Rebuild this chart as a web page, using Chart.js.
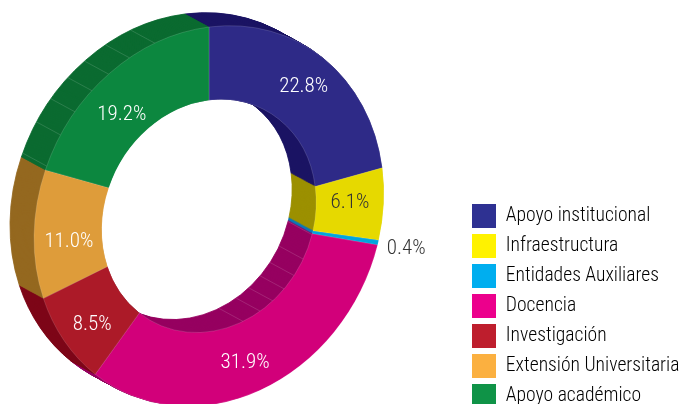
<!DOCTYPE html>
<html>
<head>
<meta charset="utf-8">
<script src="https://cdn.jsdelivr.net/npm/chart.js@4/dist/chart.umd.js"></script>
<style>html,body{margin:0;padding:0;background:#fff}#wrap{position:relative;width:679px;height:404px;overflow:hidden}canvas{display:block}</style>
</head>
<body>
<div id="wrap"><canvas id="c" width="679" height="404"></canvas></div>
<script>
const categories = ['Apoyo institucional','Infraestructura','Entidades Auxiliares','Docencia','Investigación','Extensión Universitaria','Apoyo académico'];
const values = [22.8, 6.1, 0.4, 31.9, 8.5, 11.0, 19.2];
const faceColors = ['#2e2a87','#e6d900','#00a5dc','#d2007a','#ac1a28','#de9c3a','#0c873f'];
const wallColors = ['#1b1464','#9c9000','#0b77b8','#960060','#7d0617','#94681f','#0a6b30'];
const legendColors = ['#2e3192','#fff200','#00aeef','#ec008c','#be1e2d','#fbb040','#0f9347'];
const labelColors = ['#fff','#333','#333','#fff','#fff','#fff','#fff'];
const outerSeamAngles = [292,302,310,318,325,333,342];
const innerSeamAngles = [106,118.5,127.5,135.5,143.5,151.5,161.5];
const labelNudgeX = [3,1,-4,-4,1,2,-6];
const labelNudgeY = [-3,-4,5,5,7,9,13];
const FONT = '"Roboto Condensed","Roboto",sans-serif';
const DEPTH = {x:-24, y:-13, steps:26};
const SHEAR = {b:-0.129, d:1.08};

function applyShear(ctx, cx, cy){
  ctx.translate(cx, cy);
  ctx.transform(1, SHEAR.b, 0, SHEAR.d, 0, 0);
  ctx.translate(-cx, -cy);
}
function mapPoint(cx, cy, dx, dy){
  return {x: cx + dx, y: cy + SHEAR.b*dx + SHEAR.d*dy};
}
const ringPlugin = {
  id:'ring',
  afterLayout(chart){
    const ca = chart.chartArea;
    ca.left = 34; ca.right = 384; ca.top = 41; ca.bottom = 391; ca.width = 350; ca.height = 350;
    const lg = chart.legend;
    const w = lg.width, h = lg.height;
    lg.left = 466; lg.top = 198; lg.right = lg.left + w; lg.bottom = lg.top + h;
    lg.adjustHitBoxes && lg.adjustHitBoxes();
  },
  beforeDatasetsDraw(chart){
    const ctx = chart.ctx, meta = chart.getDatasetMeta(0);
    const a0 = meta.data[0], cx = a0.x, cy = a0.y;
    for(let s = DEPTH.steps; s >= 1; s--){
      const t = s/DEPTH.steps;
      ctx.save();
      ctx.translate(DEPTH.x*t, DEPTH.y*t);
      applyShear(ctx, cx, cy);
      meta.data.forEach((arc,i)=>{
        const o = arc.options;
        arc.options = Object.assign({}, o, {backgroundColor:wallColors[i], borderColor:wallColors[i], borderWidth:0.8});
        arc.draw(ctx);
        arc.options = o;
      });
      ctx.restore();
    }
    const seam = (deg, r)=>{
      const rad = deg*Math.PI/180;
      const p = mapPoint(cx, cy, r*Math.sin(rad), -r*Math.cos(rad));
      ctx.beginPath(); ctx.moveTo(p.x, p.y); ctx.lineTo(p.x+DEPTH.x, p.y+DEPTH.y); ctx.stroke();
    };
    ctx.save();
    ctx.strokeStyle = 'rgba(255,255,255,0.2)'; ctx.lineWidth = 0.7;
    outerSeamAngles.forEach(d=>seam(d, a0.outerRadius));
    innerSeamAngles.forEach(d=>seam(d, a0.innerRadius));
    ctx.restore();
    ctx.save();
    applyShear(ctx, cx, cy);
  },
  afterDatasetsDraw(chart){
    const ctx = chart.ctx, meta = chart.getDatasetMeta(0);
    ctx.restore();
    ctx.save();
    ctx.font = '300 21px '+FONT;
    ctx.textAlign = 'center'; ctx.textBaseline = 'middle';
    meta.data.forEach((arc,i)=>{
      const mid = (arc.startAngle+arc.endAngle)/2;
      const small = values[i] < 1;
      const r = small ? arc.outerRadius*1.19 : (arc.innerRadius+arc.outerRadius)/2;
      const p = mapPoint(arc.x, arc.y, r*Math.cos(mid), r*Math.sin(mid));
      ctx.fillStyle = labelColors[i];
      ctx.fillText(values[i].toFixed(1)+'%', p.x - (small?0:1) + labelNudgeX[i], p.y - (small?4:-1) + labelNudgeY[i]);
    });
    ctx.restore();
  }
};
new Chart(document.getElementById('c'),{
  type:'doughnut',
  data:{labels:categories,datasets:[{data:values,backgroundColor:faceColors,borderColor:'rgba(255,255,255,0.22)',borderWidth:0.6,clip:false}]},
  options:{
    responsive:false,animation:false,cutout:107,radius:175,
    plugins:{
      tooltip:{enabled:false},
      legend:{display:true,position:'right',align:'start',
        labels:{boxWidth:24,boxHeight:24,padding:6,color:'#444',font:{family:FONT,size:19.6,weight:300},
          generateLabels:()=>categories.map((t,i)=>({text:t,fillStyle:legendColors[i],strokeStyle:legendColors[i],lineWidth:0,index:i,hidden:false}))}}
    }
  },
  plugins:[ringPlugin]
});
</script>
</body>
</html>
